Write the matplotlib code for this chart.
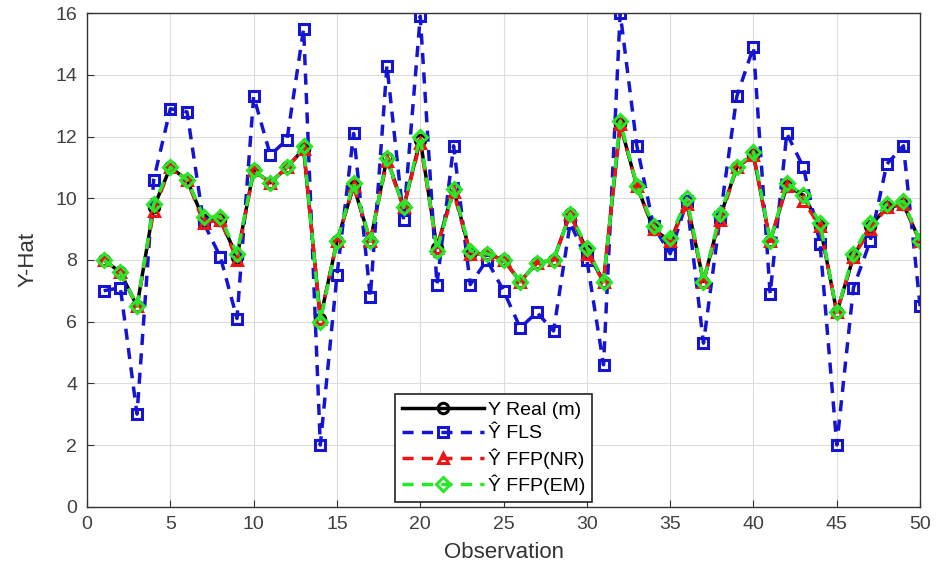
import numpy as np
import matplotlib
matplotlib.use("Agg")
import matplotlib.pyplot as plt

plt.rcParams['font.family'] = ['Liberation Sans', 'DejaVu Sans']

obs = np.arange(1, 51)

y_real = [8.0, 7.6, 6.5, 9.7, 11.0, 10.6, 9.3, 9.3, 8.1, 10.9,
          10.5, 11.0, 11.6, 6.1, 8.6, 10.4, 8.6, 11.3, 9.7, 11.9,
          8.4, 10.3, 8.2, 8.2, 8.0, 7.3, 7.9, 8.0, 9.5, 8.3,
          7.3, 12.4, 10.4, 9.0, 8.6, 9.9, 7.3, 9.4, 11.0, 11.4,
          8.6, 10.4, 10.1, 9.1, 6.3, 8.1, 9.1, 9.7, 9.8, 8.6]

y_fls = [7.0, 7.1, 3.0, 10.6, 12.9, 12.8, 9.2, 8.1, 6.1, 13.3,
         11.4, 11.9, 15.5, 2.0, 7.5, 12.1, 6.8, 14.3, 9.3, 15.9,
         7.2, 11.7, 7.2, 8.0, 7.0, 5.8, 6.3, 5.7, 9.2, 8.0,
         4.6, 16.0, 11.7, 9.1, 8.2, 9.9, 5.3, 9.4, 13.3, 14.9,
         6.9, 12.1, 11.0, 8.5, 2.0, 7.1, 8.6, 11.1, 11.7, 6.5]

y_nr = [8.0, 7.6, 6.5, 9.6, 11.0, 10.6, 9.2, 9.3, 8.0, 10.9,
        10.5, 11.0, 11.6, 6.1, 8.6, 10.4, 8.6, 11.2, 9.7, 11.8,
        8.4, 10.2, 8.2, 8.2, 8.0, 7.3, 7.9, 8.0, 9.5, 8.2,
        7.3, 12.4, 10.4, 9.0, 8.6, 9.8, 7.3, 9.3, 11.0, 11.4,
        8.6, 10.4, 9.9, 9.1, 6.3, 8.1, 9.0, 9.7, 9.8, 8.6]

y_em = [8.0, 7.6, 6.5, 9.8, 11.0, 10.6, 9.4, 9.4, 8.2, 10.9,
        10.5, 11.0, 11.7, 6.0, 8.6, 10.5, 8.6, 11.3, 9.7, 12.0,
        8.3, 10.3, 8.3, 8.2, 8.0, 7.3, 7.9, 8.0, 9.5, 8.4,
        7.3, 12.5, 10.4, 9.1, 8.7, 10.0, 7.3, 9.5, 11.0, 11.5,
        8.6, 10.5, 10.1, 9.2, 6.3, 8.2, 9.2, 9.8, 9.9, 8.6]

fig = plt.figure(figsize=(9.36, 5.7), dpi=100)
ax = fig.add_axes([0.093, 0.111, 0.890, 0.866])

style = dict(lw=2.5, ms=7.5, mfc='none', mew=2.2)
ax.plot(obs, y_real, '-', color='black', marker='o', label='Y Real (m)', **style)
ax.plot(obs, y_fls, '--', color='#1414d2', marker='s', label='Ŷ FLS',
        dashes=(3.2, 2.4), **style)
ax.plot(obs, y_nr, '--', color='#ee1414', marker='^', label='Ŷ FFP(NR)',
        dashes=(3.2, 2.4), **style)
ax.plot(obs, y_em, '--', color='#28e628', marker='D', label='Ŷ FFP(EM)',
        dashes=(3.2, 2.4), **style)

ax.set_xlim(0, 50)
ax.set_ylim(0, 16)
ax.set_xticks(np.arange(0, 51, 5))
ax.set_yticks(np.arange(0, 17, 2))
ax.grid(True, color='#dcdcdc', lw=0.8)
ax.set_axisbelow(True)
ax.tick_params(labelsize=14, direction='in', length=5, colors='#333333',
               labelcolor='#404040', pad=7)
for s in ax.spines.values():
    s.set_color('#333333')
    s.set_linewidth(1.0)

ax.set_xlabel('Observation', fontsize=16, labelpad=6, color='#333333')
ax.set_ylabel('Y-Hat', fontsize=16, labelpad=12, color='#333333')

leg = ax.legend(loc='lower left', bbox_to_anchor=(0.37, 0.01),
                fontsize=14, handlelength=4.2, fancybox=False,
                framealpha=1, edgecolor='#222222', borderpad=0.35,
                labelspacing=0.3, handletextpad=0.2, borderaxespad=0)
leg.get_frame().set_linewidth(1.2)

fig.savefig('out.png', dpi=100)
